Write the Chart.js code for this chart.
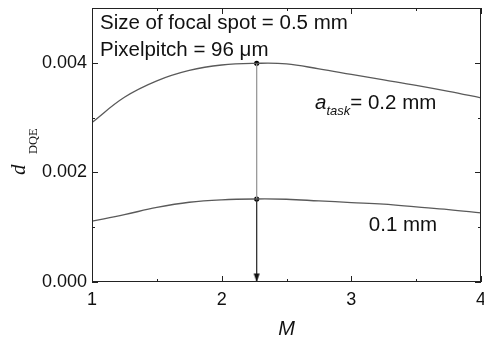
<!DOCTYPE html>
<html>
<head>
<meta charset="utf-8">
<script src="https://cdn.jsdelivr.net/npm/chart.js@4"></script>
<style>
  body { margin: 0; background: #fff; }
  canvas { display: block; }
</style>
</head>
<body>
<canvas id="dqeChart" width="484" height="338"></canvas>
<script>
// Magnification values
const magnification = [1.0, 1.25, 1.5, 1.75, 2.0, 2.27, 2.5, 2.75, 3.0, 3.25, 3.5, 3.75, 4.0];
// d_DQE for a_task = 0.2 mm
const dqeTask02 = [0.00291, 0.00337, 0.00367, 0.00386, 0.00396, 0.00399, 0.00398, 0.00389, 0.00379, 0.00369, 0.00359, 0.00348, 0.00336];
// d_DQE for a_task = 0.1 mm
const dqeTask01 = [0.00111, 0.00123, 0.00136, 0.001455, 0.0015, 0.001515, 0.00151, 0.00148, 0.00145, 0.00142, 0.00137, 0.00132, 0.00126];
// optimum magnification marker
const optimumM = 2.27;
const optimumTop = 0.00399;
const optimumBottom = 0.001515;
// tick labels
const xTickLabels = [1, 2, 3, 4];
const yTickLabels = [0, 0.002, 0.004];

const toPoints = (xs, ys) => xs.map((x, i) => ({ x: x, y: ys[i] }));

// arrow head with its tip at the centre of the image
const arrowHead = document.createElement("canvas");
arrowHead.width = 8;
arrowHead.height = 18;
(function () {
  const c = arrowHead.getContext("2d");
  c.fillStyle = "#111";
  c.beginPath();
  c.moveTo(1, 0.5);
  c.lineTo(7, 0.5);
  c.lineTo(4, 9);
  c.closePath();
  c.fill();
})();

const FONT = "Arial, 'Liberation Sans', sans-serif";

// frame, inward ticks and text
const decorations = {
  id: "decorations",
  afterDatasetsDraw(chart) {
    const ctx = chart.ctx;
    const area = chart.chartArea;
    const xs = chart.scales.x;
    const ys = chart.scales.y;
    ctx.save();
    ctx.strokeStyle = "#222";
    ctx.lineWidth = 1;
    ctx.strokeRect(area.left + 0.5, area.top + 0.5, area.right - area.left - 1, area.bottom - area.top - 1);

    ctx.beginPath();
    xs.ticks.forEach(t => {
      const px = Math.round(xs.getPixelForValue(t.value)) + 0.5;
      const len = xTickLabels.includes(t.value) ? 6 : 3;
      ctx.moveTo(px, area.bottom);
      ctx.lineTo(px, area.bottom - len);
      ctx.moveTo(px, area.top);
      ctx.lineTo(px, area.top + len);
    });
    ys.ticks.forEach(t => {
      const py = Math.round(ys.getPixelForValue(t.value)) + 0.5;
      const major = yTickLabels.some(v => Math.abs(v - t.value) < 1e-9);
      const len = major ? 6 : 3;
      ctx.moveTo(area.left, py);
      ctx.lineTo(area.left + len, py);
      ctx.moveTo(area.right, py);
      ctx.lineTo(area.right - len, py);
    });
    ctx.stroke();

    // header text
    ctx.fillStyle = "#111";
    ctx.textBaseline = "alphabetic";
    ctx.textAlign = "left";
    ctx.font = "20.5px " + FONT;
    ctx.fillText("Size of focal spot = 0.5 mm", area.left + 8, area.top + 21);
    ctx.fillText("Pixelpitch = 96 \u03bcm", area.left + 8, area.top + 48);

    // curve labels
    let px = xs.getPixelForValue(2.72);
    let py = ys.getPixelForValue(0.00315);
    ctx.font = "italic 20.5px " + FONT;
    ctx.fillText("a", px, py);
    let w = ctx.measureText("a").width;
    ctx.font = "italic 13px " + FONT;
    ctx.fillText("task", px + w, py + 6);
    w += ctx.measureText("task").width;
    ctx.font = "20.5px " + FONT;
    ctx.fillText("= 0.2 mm", px + w, py);

    px = xs.getPixelForValue(3.135);
    py = ys.getPixelForValue(0.000935);
    ctx.fillText("0.1 mm", px, py);

    // axis titles
    ctx.font = "italic 20px " + FONT;
    ctx.textAlign = "center";
    ctx.fillText("M", (area.left + area.right) / 2, 335);

    ctx.translate(25, 175);
    ctx.rotate(-Math.PI / 2);
    ctx.textAlign = "left";
    ctx.font = "italic 21px 'Liberation Serif', 'DejaVu Serif', serif";
    ctx.fillText("d", 0, 0);
    ctx.font = "12.5px 'Liberation Serif', 'DejaVu Serif', serif";
    ctx.fillText("DQE", 21, 12);
    ctx.restore();
  }
};

new Chart(document.getElementById("dqeChart").getContext("2d"), {
  type: "scatter",
  data: {
    datasets: [
      {
        data: toPoints(magnification, dqeTask02),
        showLine: true,
        borderColor: "#5a5a5a",
        borderWidth: 1.3,
        pointRadius: 0,
        tension: 0.4
      },
      {
        data: toPoints(magnification, dqeTask01),
        showLine: true,
        borderColor: "#5a5a5a",
        borderWidth: 1.3,
        pointRadius: 0,
        tension: 0.4
      },
      {
        data: [{ x: optimumM, y: optimumTop }, { x: optimumM, y: optimumBottom }],
        showLine: true,
        borderColor: "#9a9a9a",
        borderWidth: 1.3,
        pointRadius: 0
      },
      {
        data: [{ x: optimumM, y: optimumBottom }, { x: optimumM, y: 0 }],
        showLine: true,
        borderColor: "#333",
        borderWidth: 1.3,
        pointRadius: [0, 8],
        pointStyle: arrowHead
      },
      {
        data: [{ x: optimumM, y: optimumTop }, { x: optimumM, y: optimumBottom }],
        showLine: false,
        pointRadius: 2.6,
        backgroundColor: "#000",
        borderColor: "#000",
        borderWidth: 0
      }
    ]
  },
  options: {
    responsive: false,
    animation: false,
    devicePixelRatio: 1,
    layout: { autoPadding: false, padding: { left: 0, right: 3, top: 8, bottom: 0 } },
    plugins: {
      legend: { display: false },
      tooltip: { enabled: false }
    },
    scales: {
      x: {
        type: "linear",
        min: 1,
        max: 4,
        grid: { display: false, drawTicks: false },
        border: { display: false },
        ticks: {
          stepSize: 0.5,
          autoSkip: false,
          maxRotation: 0,
          padding: 7,
          color: "#111",
          font: { family: FONT, size: 18 },
          callback: v => (xTickLabels.includes(v) ? String(v) : "")
        },
        afterFit(scale) {
          scale.height = 56;
          scale.paddingLeft = 0;
          scale.paddingRight = 0;
        }
      },
      y: {
        type: "linear",
        min: 0,
        max: 0.005,
        grid: { display: false, drawTicks: false },
        border: { display: false },
        ticks: {
          stepSize: 0.001,
          autoSkip: false,
          padding: 5,
          color: "#111",
          font: { family: FONT, size: 18 },
          callback: v => (yTickLabels.some(t => Math.abs(t - v) < 1e-9) ? v.toFixed(3) : "")
        },
        afterFit(scale) {
          scale.width = 92;
          scale.paddingTop = 0;
          scale.paddingBottom = 0;
        }
      }
    }
  },
  plugins: [decorations]
});
</script>
</body>
</html>
